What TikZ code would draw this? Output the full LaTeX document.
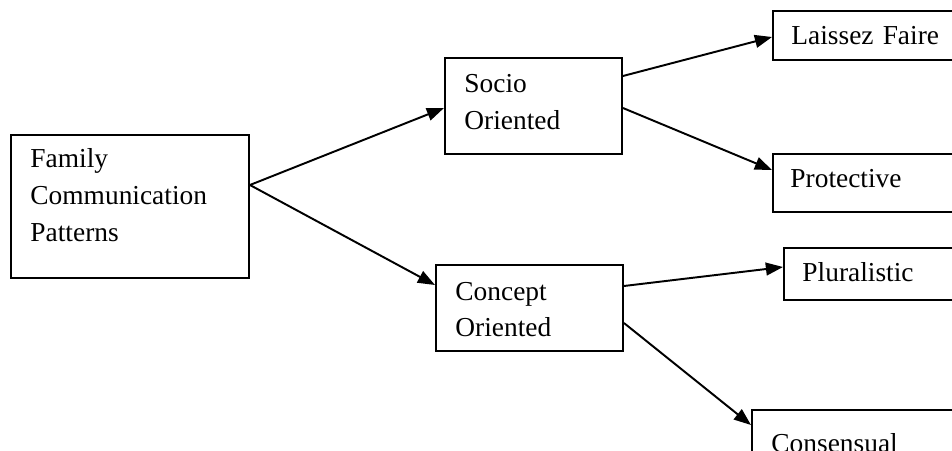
\documentclass[tikz,border=0pt]{standalone}
\usepackage{fontspec}
\setmainfont{Liberation Serif}
\usetikzlibrary{arrows.meta,calc}
\newlength{\pxu}
\setlength{\pxu}{0.438pt}
\tikzset{
  box/.style={draw, line width=0.85pt, anchor=north west, inner sep=0pt},
  txt/.style={anchor=base west, inner sep=0pt, text width=120pt, align=left,
    font=\fontsize{12}{16.2}\selectfont},
  link/.style={line width=0.85pt, -{Triangle[length=7.5pt,width=5.6pt]}}
}
\begin{document}
\begin{tikzpicture}[x=1\pxu, y=-1\pxu]
  \useasboundingbox (0,0) rectangle (952,451);
  \clip (0,0) rectangle (952,451);

  % boxes
  \node[box, minimum width=238\pxu, minimum height=143\pxu] (fam) at (10,134) {};
  \node[box, minimum width=177\pxu, minimum height=96\pxu] (socio) at (444,57) {};
  \node[box, minimum width=187\pxu, minimum height=86\pxu] (concept) at (435,264) {};
  \node[box, minimum width=200\pxu, minimum height=49\pxu] (laissez) at (772,10) {};
  \node[box, minimum width=200\pxu, minimum height=58\pxu] (protect) at (772,153) {};
  \node[box, minimum width=200\pxu, minimum height=52\pxu] (plural) at (783,247) {};
  \node[box, minimum width=220\pxu, minimum height=70\pxu] (consens) at (751,409) {};

  % labels
  \node[txt] (famT) at ($(fam.north west)+(20,34)$) {Family\\Communication\\Patterns};
  \node[txt] (socioT) at ($(socio.north west)+(20,36)$) {Socio\\Oriented};
  \node[txt] (conceptT) at ($(concept.north west)+(20,36)$) {Concept\\Oriented};
  \node[txt] (laissezT) at ($(laissez.north west)+(19,35)$) {Laissez Faire};
  \node[txt] (protectT) at ($(protect.north west)+(18,35)$) {Protective};
  \node[txt] (pluralT) at ($(plural.north west)+(19,35)$) {Pluralistic};
  \node[txt] (consensT) at ($(consens.north west)+(20,43)$) {Consensual};

  % connectors
  \draw[link] ($(fam.north east)+(0,51)$) -- ($(socio.north west)+(0,51)$);
  \draw[link] ($(fam.north east)+(0,51)$) -- ($(concept.north west)+(0,21)$);
  \draw[link] ($(socio.north east)+(0,19)$) -- ($(laissez.north west)+(0,27)$);
  \draw[link] ($(socio.north east)+(0,51)$) -- ($(protect.north west)+(0,17)$);
  \draw[link] ($(concept.north east)+(0,22)$) -- ($(plural.north west)+(0,20)$);
  \draw[link] ($(concept.north east)+(0,59)$) -- ($(consens.north west)+(0,16)$);
\end{tikzpicture}
\end{document}
